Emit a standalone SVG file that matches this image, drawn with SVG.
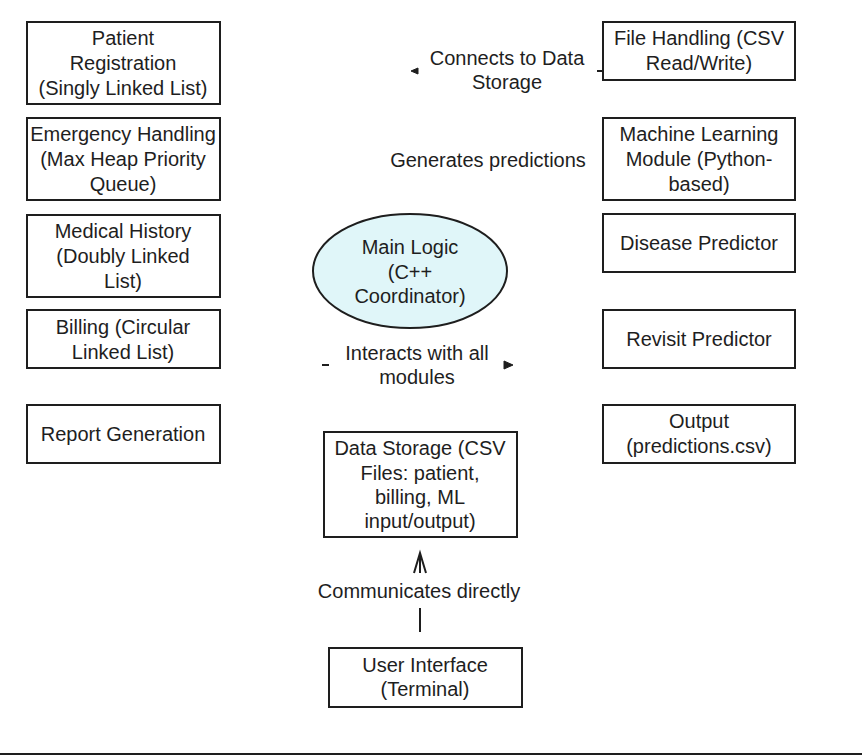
<svg xmlns="http://www.w3.org/2000/svg" width="862" height="755" viewBox="0 0 862 755">
<style>
.box{fill:#ffffff;stroke:#1e1e1e;stroke-width:2}
.ell{fill:#e0f6f9;stroke:#1e1e1e;stroke-width:2}
.t{font-family:"Liberation Sans",Arial,sans-serif;font-size:20px;fill:#1e1e1e;text-anchor:middle;dominant-baseline:central}
.ln{stroke:#1e1e1e;stroke-width:2;fill:none}
.ah{fill:#1e1e1e;stroke:#1e1e1e;stroke-width:1}
</style>
<rect width="862" height="755" fill="#ffffff"/>
<g id="connectors">
  <g id="c-file-storage">
    <line class="ln" x1="603" y1="71" x2="597" y2="71"/>
    <path class="ah" d="M411,71 L418,68 L418,74 Z"/>
    <text class="t" x="507" y="58">Connects to Data</text>
    <text class="t" x="507" y="82">Storage</text>
  </g>
  <g id="c-ml">
    <text class="t" x="488" y="160">Generates predictions</text>
  </g>
  <g id="c-main">
    <line class="ln" x1="322" y1="365" x2="329" y2="365"/>
    <path class="ah" d="M513,365 L504,361 L504,369 Z"/>
    <text class="t" x="417" y="353">Interacts with all</text>
    <text class="t" x="417" y="377">modules</text>
  </g>
  <g id="c-ui-storage">
    <line class="ln" x1="420" y1="632" x2="420" y2="608"/>
    <line class="ln" x1="420" y1="553" x2="420" y2="573"/>
    <polyline class="ln" points="414,573 420,553 426,573"/>
    <text class="t" x="419" y="591">Communicates directly</text>
  </g>
</g>
<g id="patient-registration">
  <rect class="box" x="27" y="22" width="193" height="82"/>
  <text class="t" x="123" y="38">Patient</text>
  <text class="t" x="123" y="63">Registration</text>
  <text class="t" x="123" y="88">(Singly Linked List)</text>
</g>
<g id="emergency-handling">
  <rect class="box" x="27" y="118" width="193" height="82"/>
  <text class="t" x="123" y="134">Emergency Handling</text>
  <text class="t" x="123" y="159">(Max Heap Priority</text>
  <text class="t" x="123" y="184">Queue)</text>
</g>
<g id="medical-history">
  <rect class="box" x="27" y="215" width="193" height="82"/>
  <text class="t" x="123" y="231">Medical History</text>
  <text class="t" x="123" y="256">(Doubly Linked</text>
  <text class="t" x="123" y="281">List)</text>
</g>
<g id="billing">
  <rect class="box" x="27" y="310" width="193" height="58"/>
  <text class="t" x="123" y="327">Billing (Circular</text>
  <text class="t" x="123" y="352">Linked List)</text>
</g>
<g id="report-generation">
  <rect class="box" x="27" y="405" width="193" height="58"/>
  <text class="t" x="123" y="434">Report Generation</text>
</g>
<g id="file-handling">
  <rect class="box" x="603" y="22" width="192" height="58"/>
  <text class="t" x="699" y="38">File Handling (CSV</text>
  <text class="t" x="699" y="63">Read/Write)</text>
</g>
<g id="ml-module">
  <rect class="box" x="603" y="118" width="192" height="82"/>
  <text class="t" x="699" y="134">Machine Learning</text>
  <text class="t" x="699" y="159">Module (Python-</text>
  <text class="t" x="699" y="184">based)</text>
</g>
<g id="disease-predictor">
  <rect class="box" x="603" y="214" width="192" height="58"/>
  <text class="t" x="699" y="243">Disease Predictor</text>
</g>
<g id="revisit-predictor">
  <rect class="box" x="603" y="310" width="192" height="58"/>
  <text class="t" x="699" y="339">Revisit Predictor</text>
</g>
<g id="output">
  <rect class="box" x="603" y="405" width="192" height="58"/>
  <text class="t" x="699" y="421">Output</text>
  <text class="t" x="699" y="446">(predictions.csv)</text>
</g>
<g id="main-logic">
  <ellipse class="ell" cx="410" cy="271" rx="97" ry="57"/>
  <text class="t" x="410" y="247">Main Logic</text>
  <text class="t" x="410" y="272">(C++</text>
  <text class="t" x="410" y="296">Coordinator)</text>
</g>
<g id="data-storage">
  <rect class="box" x="324" y="432" width="193" height="105"/>
  <text class="t" x="420" y="448">Data Storage (CSV</text>
  <text class="t" x="420" y="473">Files: patient,</text>
  <text class="t" x="420" y="497">billing, ML</text>
  <text class="t" x="420" y="521">input/output)</text>
</g>
<g id="user-interface">
  <rect class="box" x="329" y="648" width="193" height="59"/>
  <text class="t" x="425" y="665">User Interface</text>
  <text class="t" x="425" y="689">(Terminal)</text>
</g>
<line class="ln" x1="0" y1="754" x2="862" y2="754"/>
</svg>
